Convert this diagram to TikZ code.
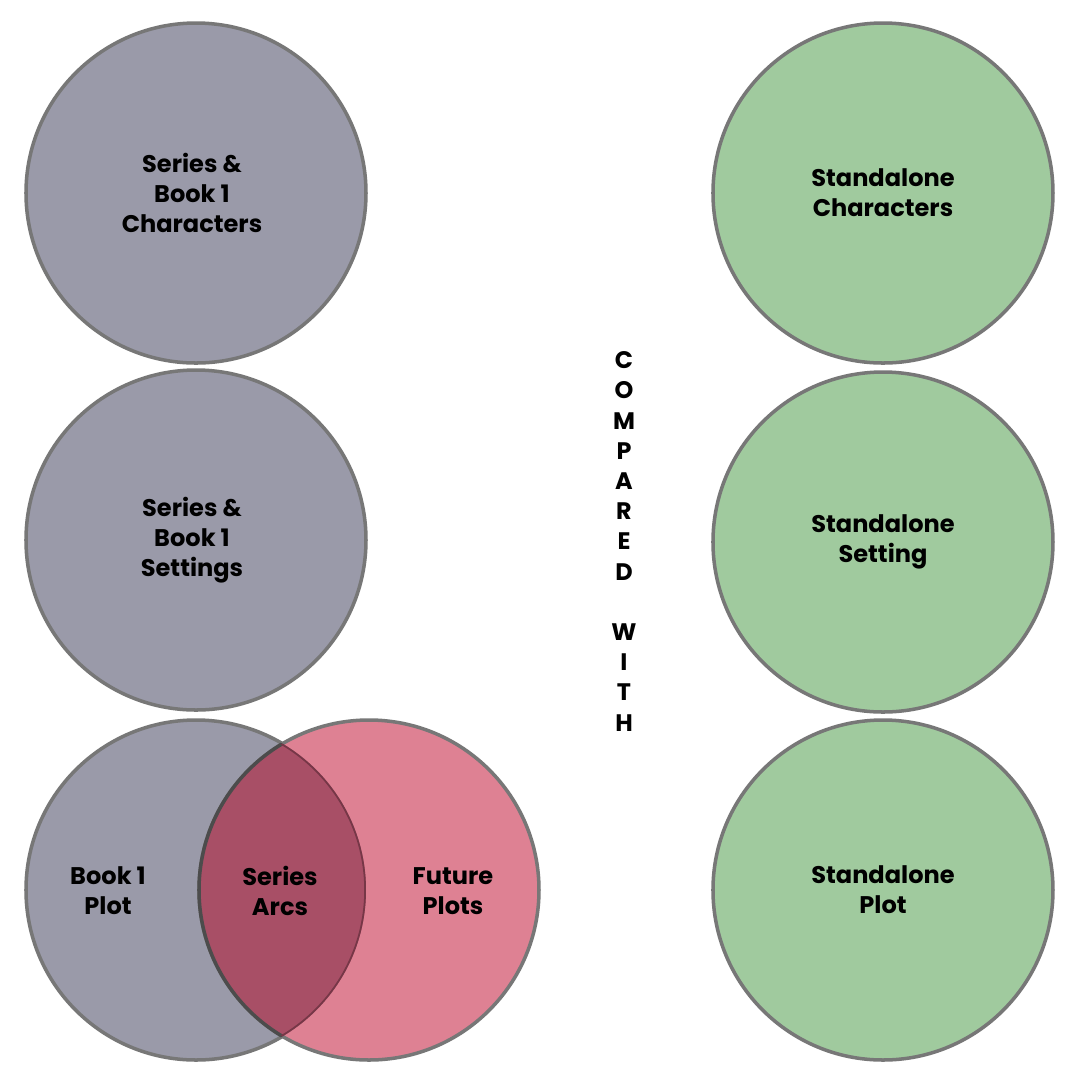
\documentclass[tikz,border=0pt]{standalone}
\usepackage{fontspec}
\setmainfont{Poppins}[UprightFont=* SemiBold, BoldFont=* Bold]
\usepackage{tikz}
\usetikzlibrary{positioning}

\definecolor{seriesgrey}{HTML}{9A9AA9}
\definecolor{standgreen}{HTML}{A0CA9E}
\definecolor{futurered}{HTML}{DE8193}
\definecolor{arcred}{HTML}{A84F66}
\definecolor{rimgrey}{HTML}{777777}

\tikzset{
  bubble/.style={circle,draw=rimgrey,line width=1pt,minimum size=340*0.1mm,inner sep=0pt},
  lbl/.style={align=center,font=\bfseries\fontsize{6.85}{8.5}\selectfont},
  lettr/.style={font=\bfseries\fontsize{6.8}{8}\selectfont,inner sep=0pt}
}

\begin{document}
\begin{tikzpicture}[x=0.1mm,y=-0.1mm]
\useasboundingbox[fill=white] (0,0) rectangle (1080,1080);
% left column
\node[bubble,fill=seriesgrey] (chars) at (196,193) {};
\node[bubble,fill=seriesgrey] (sets) at (196,540) {};
\node[bubble,fill=seriesgrey] (plot) at (196,890) {};
\node[bubble,fill=futurered] (future) at (369,890) {};
\begin{scope}
  \clip (196,890) circle (170);
  \fill[arcred] (369,890) circle (170);
  \draw[line width=1pt,color=black!70] (369,890) circle (170);
  \clip (369,890) circle (170);
  \draw[line width=1pt,color=arcred!70!black] (196,890) circle (170);
\end{scope}
\node[lbl] at (192,193) {Series \&\\Book 1\\Characters};
\node[lbl] at (192,540) {Series \&\\Book 1\\Settings};
\node[lbl] at (108,891) {Book 1\\Plot};
\node[lbl] at (280,891) {Series\\Arcs};
\node[lbl] at (453,891) {Future\\Plots};
% right column
\node[bubble,fill=standgreen] (schars) at (883,193) {};
\node[bubble,fill=standgreen] (ssets) at (883,542) {};
\node[bubble,fill=standgreen] (splot) at (883,890) {};
\node[lbl] at (schars) {Standalone\\Characters};
\node[lbl] at (ssets) {Standalone\\Setting};
\node[lbl] at (splot) {Standalone\\Plot};
% middle word
\foreach \ch [count=\i] in {C,O,M,P,A,R,E,D,{},W,I,T,H}
  \node[lettr] at (624,330+30.2*\i) {\ch};
\end{tikzpicture}
\end{document}
